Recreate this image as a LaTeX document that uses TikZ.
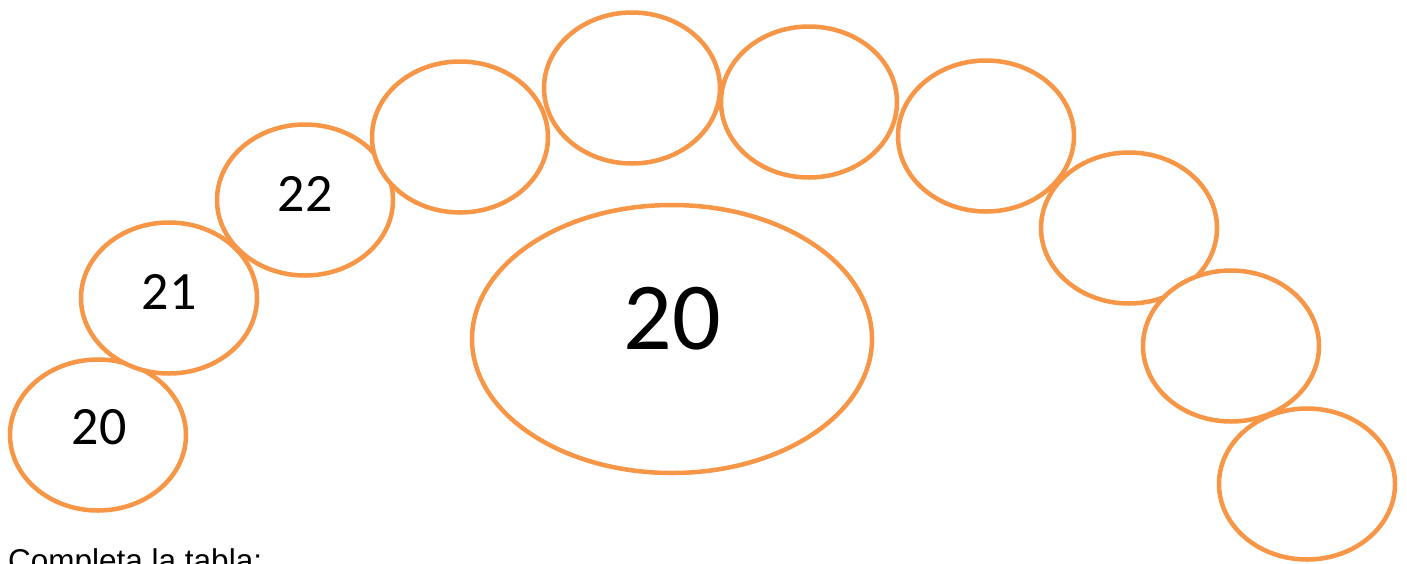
\documentclass[tikz,border=0pt]{standalone}
\usepackage{fontspec}
\setmainfont{Carlito}
\newfontfamily\arialfont{Liberation Sans}
\usetikzlibrary{shapes.geometric}
\definecolor{bead}{HTML}{F79646}
\begin{document}
\begin{tikzpicture}[x=1pt,y=-1pt,
 e/.style={ellipse,draw=bead,line width=4.5pt,fill=white,inner sep=0pt,minimum width=176pt,minimum height=151pt},
 big/.style={ellipse,draw=bead,line width=4.5pt,fill=white,inner sep=0pt,minimum width=400pt,minimum height=268pt},
 num/.style={inner sep=0pt,font=\fontsize{54}{60}\selectfont}]
\useasboundingbox (0,0) rectangle (1407,563);
% left side, the numbered ones
\node[e] (e1) at (98,435) {};
\node[num] (t20) at (99,427) {20};
\node[e] (e2) at (169,298) {};
\node[num] (t21) at (169,292) {21};
\node[e] (e3) at (305,200) {};
\node[num] (t22) at (305,194) {22};
% empty ones
\node[e] (e4) at (460,137) {};
\node[e] (e5) at (632,88) {};
\node[e] (e6) at (809,102) {};
\node[e] (e7) at (986,136) {};
\node[e] (e8) at (1129,228) {};
\node[e] (e9) at (1231,346) {};
\node[e] (e10) at (1307,484) {};
% middle
\node[big] (mid) at (672,339) {};
\node[inner sep=0pt,font=\fontsize{96}{106}\selectfont] (tmid) at (672,319) {20};
\node[anchor=base west,inner sep=0pt,font=\arialfont\fontsize{31.5}{36}\selectfont] (task) at (8,571) {Completa la tabla:};
\end{tikzpicture}
\end{document}
